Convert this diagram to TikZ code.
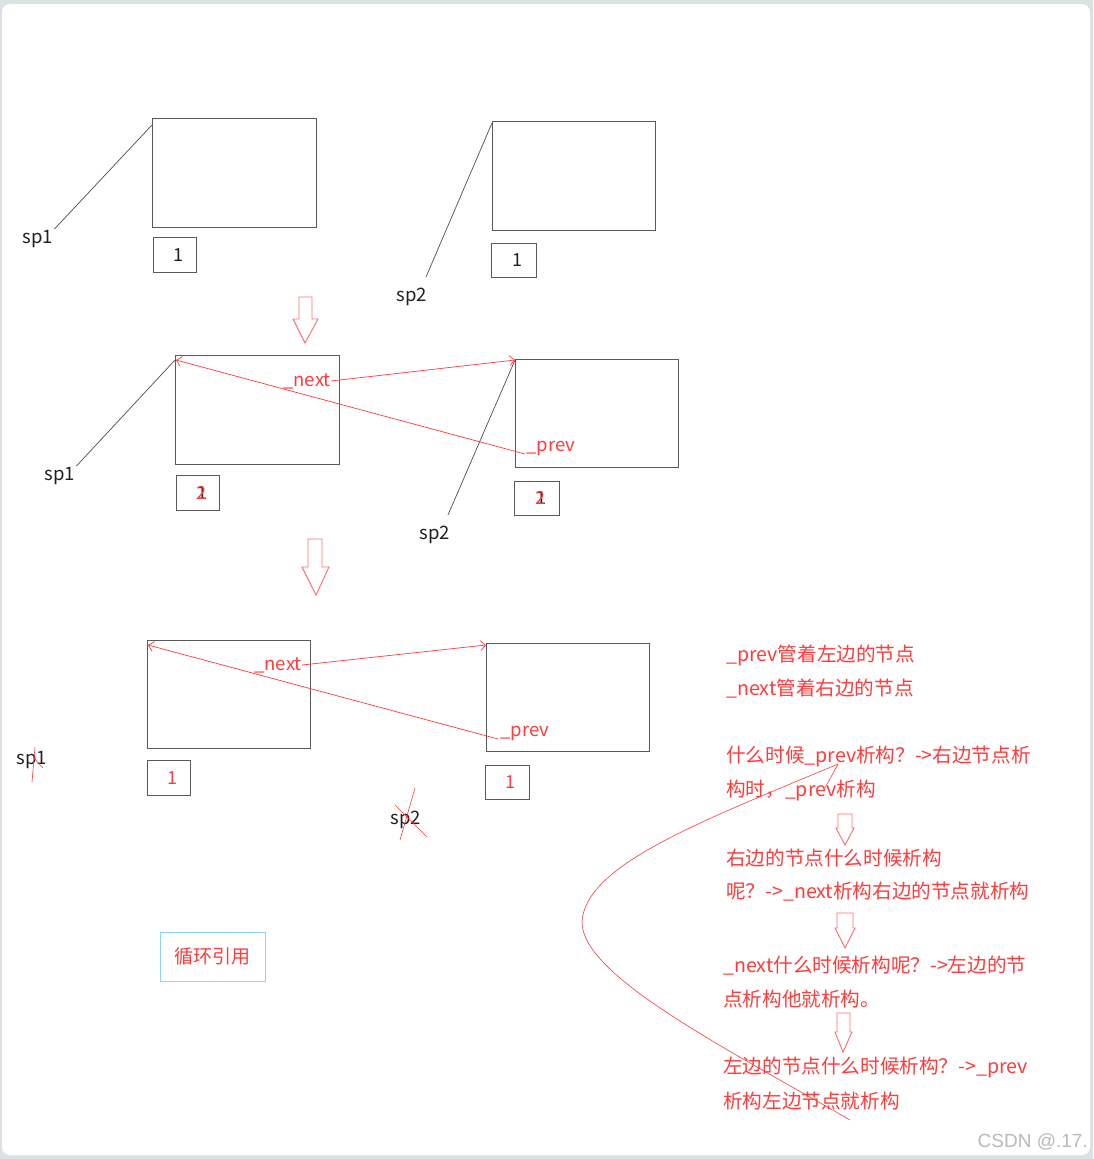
\documentclass[tikz,border=0pt]{standalone}
\usepackage{fontspec}
\setmainfont{Noto Sans CJK SC}
\newfontfamily\wmfont{Liberation Sans}
\usetikzlibrary{arrows.meta,calc}
\definecolor{redink}{HTML}{FF3B3B}
\definecolor{boxgray}{HTML}{5A5A5A}
\definecolor{inkblack}{HTML}{202020}
\definecolor{bluebox}{HTML}{8DD3F5}
\definecolor{bggray}{HTML}{DCE1E4}
\tikzset{
  objbox/.style={draw=boxgray, line width=0.9pt, inner sep=0, anchor=north west},
  cntbox/.style={draw=boxgray, line width=0.9pt, inner sep=0, anchor=north west,
    minimum width=43pt, minimum height=35pt, font=\fontsize{18}{18}\selectfont, text=inkblack},
  ptrlabel/.style={inner sep=1pt, text=inkblack, font=\fontsize{18.5}{18}\selectfont},
  ptrline/.style={draw=inkblack!80, line width=0.7pt},
  redlabel/.style={inner sep=0pt, text=redink, font=\fontsize{18.5}{18}\selectfont},
  redline/.style={draw=redink, line width=0.7pt},
  barb/.style={-{Straight Barb[length=5pt,width=10pt]}},
  note/.style={text=redink, anchor=west, inner sep=0pt, font=\fontsize{19.6}{20}\selectfont},
  hollow/.style={draw=redink!75, line width=0.9pt, line join=miter},
}
\newcommand{\cnt}[1]{\hspace*{7pt}#1}
\begin{document}
\begin{tikzpicture}[x=1pt,y=-1pt]
\useasboundingbox (0,0) rectangle (1093,1159);
\fill[bggray] (0,0) rectangle (1093,1159);
\fill[white, rounded corners=8pt] (2,4) rectangle (1090,1155);

% ---------- row 1 ----------
\node[objbox, minimum width=164pt, minimum height=109pt] (A1) at (152,118) {};
\node[objbox, minimum width=163pt, minimum height=109pt] (B1) at (492,121) {};
\node[cntbox] (a1) at (153,237) {\cnt{1}};
\node[cntbox, minimum width=45pt, minimum height=34pt] (b1) at (491,243) {\cnt{1}};
\node[ptrlabel] (sp1a) at (38,239) {sp1};
\node[ptrlabel] (sp2a) at (412,297) {sp2};
\coordinate (sp2aend) at (426,277);
\draw[ptrline] (sp1a.north east) -- ([yshift=-7pt]A1.north west);
\draw[ptrline] (sp2aend) -- ([yshift=-2pt]B1.north west);

\draw[hollow] (299,297) -- (312,297) -- (312,319) -- (318,319) -- (305,343) -- (293,319) -- (299,319) -- cycle;

% ---------- row 2 ----------
\node[objbox, minimum width=164pt, minimum height=109pt] (A2) at (175,355) {};
\node[objbox, minimum width=163pt, minimum height=108pt] (B2) at (515,359) {};
\node[cntbox] (a2) at (176,475) {\cnt{\rlap{\kern1.5pt 1}{\color{redink}2}}};
\node[cntbox, minimum width=45pt, minimum height=34pt] (b2) at (514,481) {\cnt{\rlap{\kern1.5pt 1}{\color{redink}2}}};
\node[ptrlabel] (sp1b) at (60,476) {sp1};
\node[ptrlabel] (sp2b) at (435,535) {sp2};
\coordinate (sp2bend) at (448,515);
\draw[ptrline] (sp1b.north east) -- ([yshift=-5pt]A2.north west);
\draw[ptrline] (sp2bend) -- ([yshift=-1pt]B2.north west);

\node[redlabel] (nx2) at (307,381) {\_next};
\node[redlabel] (pv2) at (551,448) {\_prev};
\coordinate (pv2start) at (525,454);
\draw[redline, barb] (nx2.east) -- ([yshift=-1pt]B2.north west);
\draw[redline, barb] (pv2start) -- ([xshift=1pt,yshift=-5pt]A2.north west);

\draw[hollow] (308,539) -- (322,539) -- (322,567) -- (329,567) -- (316,595) -- (302,567) -- (308,567) -- cycle;

% ---------- row 3 ----------
\node[objbox, minimum width=163pt, minimum height=108pt] (A3) at (147,640) {};
\node[objbox, minimum width=163pt, minimum height=108pt] (B3) at (486,643) {};
\node[cntbox, text=redink] (a3) at (147,760) {\cnt{1}};
\node[cntbox, text=redink, minimum width=44pt, minimum height=34pt] (b3) at (485,765) {\cnt{1}};
\node[ptrlabel] (sp1c) at (32,760) {sp1};
\node[ptrlabel] (sp2c) at (406,820) {sp2};
\draw[redline, line width=0.6pt] (35,747) -- (32,782);
\draw[redline, line width=0.6pt] (33,757) -- (43,768);
\draw[redline, line width=0.6pt] (415,788) -- (400,840);
\draw[redline, line width=0.6pt] (395,805) -- (427,837);

\node[redlabel] (nx3) at (278,665) {\_next};
\node[redlabel] (pv3) at (525,733) {\_prev};
\coordinate (pv3start) at (498,739);
\draw[redline, barb] (nx3.east) -- ([yshift=-2pt]B3.north west);
\draw[redline, barb] (pv3start) -- ([xshift=1pt,yshift=-5pt]A3.north west);

% ---------- circular reference box ----------
\node[draw=bluebox, line width=0.9pt, minimum width=105pt, minimum height=49pt, inner sep=0,
      text=redink, font=\fontsize{19}{19}\selectfont] (cyc) at (212.5,956.5) {循环引用};

% ---------- notes ----------
\node[note] (n1) at (726,655) {\_prev管着左边的节点};
\node[note] (n2) at (726,689) {\_next管着右边的节点};
\node[note] (n3) at (726,757) {什么时候\_prev析构？->右边节点析};
\node[note] (n4) at (726,791) {构时，\_prev析构};
\node[note] (n5) at (726,858) {右边的节点什么时候析构};
\node[note] (n6) at (726,892) {呢？->\_next析构右边的节点就析构};
\node[note] (n7) at (723,966) {\_next什么时候析构呢？->左边的节};
\node[note] (n8) at (723,999) {点析构他就析构。};
\node[note] (n9) at (723,1067) {左边的节点什么时候析构？->\_prev};
\node[note] (n10) at (723,1101) {析构左边节点就析构};

\draw[hollow] (838,814) -- (852,814) -- (852,828) -- (854,828) -- (845,845) -- (836,828) -- (838,828) -- cycle;
\draw[hollow] (837,913) -- (853,913) -- (853,928) -- (855,928) -- (845,948) -- (835,928) -- (837,928) -- cycle;
\draw[hollow] (837,1013) -- (850,1013) -- (850,1032) -- (852,1032) -- (843,1052) -- (835,1032) -- (837,1032) -- cycle;

% loop curve
\draw[redline, line width=0.6pt] (838,764) .. controls (832,775) .. (825,788);
\draw[redline, line width=0.6pt] (838,764) .. controls (700,822) and (585,865) .. (582,922)
   .. controls (582,975) and (720,1045) .. (850,1120);

% watermark
\node[text=gray!55, inner sep=0, anchor=east, font=\wmfont\fontsize{19}{19}\selectfont] (wm) at (1088,1142) {CSDN @.17.};
\end{tikzpicture}
\end{document}
